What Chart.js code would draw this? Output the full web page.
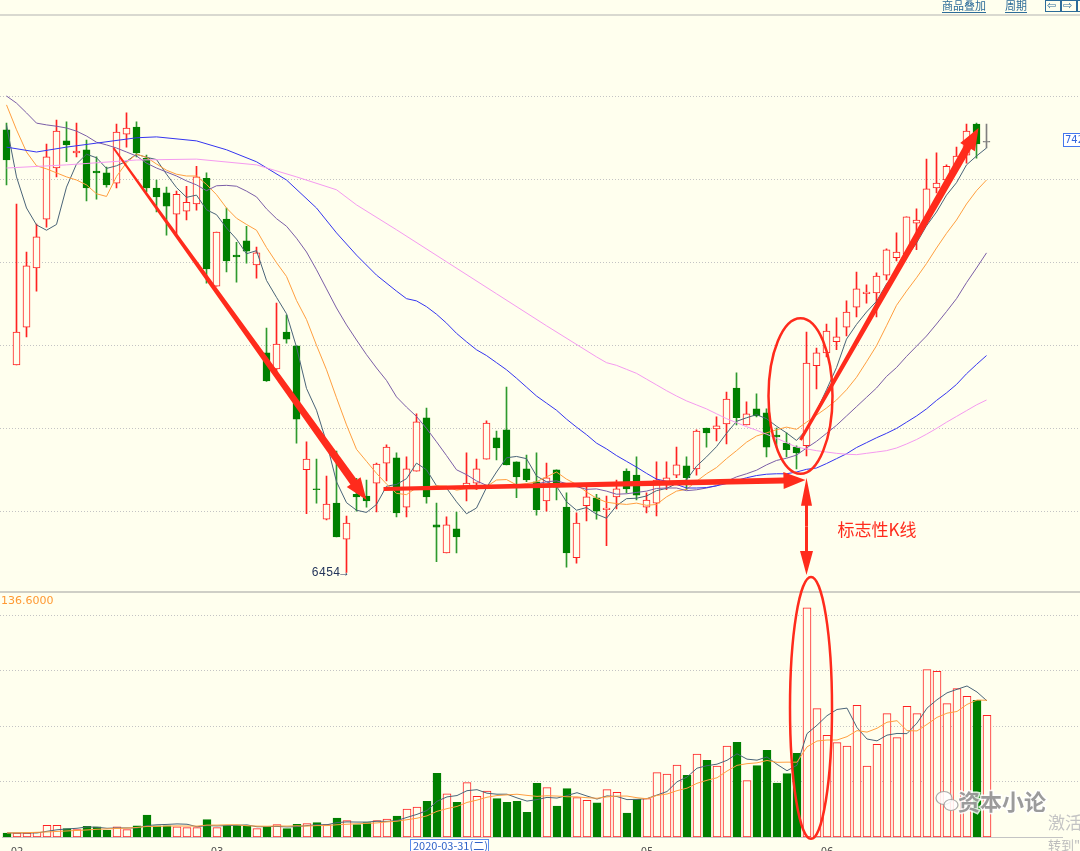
<!DOCTYPE html>
<html>
<head>
<meta charset="utf-8">
<script src="https://cdn.jsdelivr.net/npm/chart.js@4.4.1/dist/chart.umd.min.js"></script>
<style>
html, body { margin: 0; padding: 0; background: #ffffee; }
#wrap { position: relative; width: 1080px; height: 851px; overflow: hidden; }
canvas { position: absolute; left: 0; top: 0; }
#vol-chart { pointer-events: none; }
</style>
</head>
<body>
<div id="wrap">
  <canvas id="price-chart" width="1080" height="851"></canvas>
  <canvas id="vol-chart" width="1080" height="851"></canvas>
</div>
<script>
// daily bars, 2020-01-23 .. 2020-06-23
const opens = [
  7450,6921,7006,7139,7249,7364,7425,7398,7405,7357,
  7353,7330,7440,7456,7386,7319,7308,7260,7267,7283,
  7341,7098,7249,7168,7200,7146,6948,6912,6995,6964,
  6685,6642,6574,6610,6529,6630,6626,6655,6700,6712,
  6601,6682,6802,6561,6498,6552,6646,6655,6709,6757,
  6775,6703,6687,6658,6615,6685,6601,6487,6604,6622,
  6595,6624,6682,6673,6601,6610,6653,6673,6694,6687,
  6779,6777,6788,6869,6786,6822,6813,6763,6745,6736,
  6739,6919,6948,6973,7006,7051,7081,7083,7123,7162,
  7171,7240,7247,7319,7337,7366,7393,7463,7422
];
const highs = [
  7465,7283,7175,7238,7418,7472,7468,7465,7427,7389,
  7366,7463,7488,7468,7393,7337,7321,7312,7323,7368,
  7353,7220,7274,7197,7233,7186,7004,7060,7033,6964,
  6748,6709,6671,6727,6581,6666,6662,6700,6741,6723,
  6714,6811,6824,6610,6579,6590,6723,6709,6795,6772,
  6871,6703,6718,6723,6700,6685,6633,6588,6649,6630,
  6626,6662,6687,6714,6633,6703,6703,6736,6714,6775,
  6779,6804,6860,6903,6838,6856,6822,6779,6768,6739,
  6995,6959,7013,7027,7065,7130,7101,7128,7182,7218,
  7254,7272,7384,7398,7371,7411,7463,7465,7463
];
const lows = [
  7326,6921,6984,7087,7231,7344,7378,7389,7290,7294,
  7321,7319,7411,7389,7310,7265,7213,7215,7247,7269,
  7105,7098,7130,7107,7150,7116,6884,6903,6970,6745,
  6586,6610,6572,6534,6454,6592,6601,6590,6660,6579,
  6579,6682,6610,6478,6498,6498,6615,6640,6709,6707,
  6696,6622,6658,6583,6592,6617,6466,6475,6570,6574,
  6514,6597,6633,6617,6588,6581,6640,6667,6640,6673,
  6736,6750,6743,6786,6786,6804,6714,6736,6714,6687,
  6716,6867,6939,6955,6986,7029,7060,7029,7112,7155,
  7166,7180,7236,7308,7328,7359,7375,7386,7409
];
const closes = [
  7382,6995,7144,7209,7389,7447,7416,7402,7319,7353,
  7326,7445,7454,7398,7319,7299,7278,7305,7287,7344,
  7137,7220,7155,7164,7177,7173,6885,6968,6979,6799,
  6709,6640,6608,6534,6565,6624,6615,6698,6736,6588,
  6687,6793,6624,6556,6561,6534,6655,6687,6790,6734,
  6696,6669,6662,6595,6667,6646,6498,6565,6624,6592,
  6599,6642,6642,6628,6617,6662,6667,6696,6667,6772,
  6768,6784,6844,6802,6811,6806,6736,6759,6730,6723,
  6925,6948,6997,6984,7040,7092,7085,7121,7180,7175,
  7254,7247,7317,7330,7368,7391,7447,7418,7422
];
const volumes = [
  2.4,2.4,2.4,2.8,7.0,7.0,5.0,4.4,6.4,6.0,
  4.0,6.0,4.4,6.6,13.1,6.6,6.6,6.0,5.6,5.6,
  10.4,5.6,6.8,6.8,6.4,5.0,6.0,7.4,5.0,7.6,
  8.0,8.6,7.4,11.3,9.8,7.4,8.6,9.8,10.7,12.5,
  16.7,17.9,21.3,37.9,25.8,20.7,32.4,24.2,27.4,22.9,
  20.7,21.3,14.7,32.0,29.4,18.5,28.8,23.5,21.9,20.3,
  28.2,26.6,14.3,22.6,22.9,38.4,37.5,42.9,36.8,49.4,
  45.7,42.3,54.2,56.4,33.6,42.5,51.6,32.2,37.8,49.9,
  136.6,76.5,60.6,56.2,54.2,78.5,42.3,55.2,73.5,59.2,
  77.9,73.5,99.7,98.7,79.5,88.4,83.8,81.4,72.5
];

// moving average lines
const ma5 = [
  7461,7344,7274,7236,7224,7237,7321,7373,7395,7387,
  7363,7369,7379,7395,7388,7383,7350,7320,7298,7303,
  7270,7259,7229,7204,7171,7178,7111,7073,7036,6961,
  6868,6819,6747,6658,6611,6594,6589,6607,6648,6652,
  6665,6700,6685,6649,6644,6613,6586,6599,6645,6680,
  6712,6715,6710,6671,6658,6648,6613,6594,6600,6585,
  6576,6604,6620,6621,6626,6638,6643,6654,6662,6693,
  6714,6737,6767,6794,6802,6809,6800,6783,6768,6751,
  6775,6817,6865,6915,6979,7012,7040,7064,7103,7130,
  7163,7195,7234,7265,7303,7331,7371,7391,7409
];
const ma10 = [
  7506,7450,7400,7369,7362,7353,7344,7337,7326,7306,
  7300,7345,7376,7395,7388,7373,7359,7350,7346,7346,
  7327,7304,7274,7251,7237,7224,7185,7151,7120,7066,
  7023,6965,6910,6847,6786,6731,6704,6677,6653,6632,
  6629,6645,6646,6649,6648,6639,6643,6642,6647,6662,
  6663,6651,6654,6658,6669,6680,6664,6652,6635,6621,
  6612,6609,6607,6610,6605,6607,6624,6637,6641,6659,
  6676,6690,6710,6728,6747,6761,6768,6775,6781,6776,
  6792,6808,6824,6842,6865,6893,6928,6964,7009,7055,
  7087,7117,7149,7184,7217,7247,7283,7313,7337
];
const ma20 = [
  7526,7510,7488,7465,7461,7458,7454,7447,7436,7422,
  7416,7409,7400,7391,7375,7364,7355,7346,7335,7326,
  7313,7324,7325,7323,7312,7299,7272,7250,7233,7206,
  7175,7135,7092,7049,7011,6977,6944,6914,6886,6849,
  6826,6805,6778,6748,6717,6685,6674,6660,6650,6647,
  6646,6648,6650,6653,6658,6660,6654,6647,6641,6642,
  6637,6630,6631,6634,6637,6643,6644,6644,6638,6640,
  6644,6649,6659,6669,6676,6684,6696,6706,6711,6718,
  6734,6749,6767,6785,6806,6827,6848,6869,6895,6915,
  6940,6963,6986,7013,7041,7070,7106,7139,7173
];
// [bar number, value] where the line was read sparsely, then every bar
const ma40Early = [[1,7411],[4,7400],[7,7411],[10,7420],[14,7432],[16,7434],[20,7425],
  [23,7405],[26,7378],[29,7337],[32,7274],[34,7218],[36,7168],[38,7123]];
const ma40Start = 40;
const ma40Late = [
  7087,7070,7065,7052,7035,7015,6992,6973,6955,6942,
  6926,6910,6891,6871,6851,6835,6819,6799,6781,6764,
  6745,6732,6717,6704,6691,6677,6664,6659,6652,6644,
  6644,6645,6649,6654,6661,6667,6672,6675,6676,6676,
  6680,6686,6689,6699,6710,6721,6735,6746,6757,6767,
  6778,6792,6806,6822,6841,6858,6877,6901,6922,6942
];
const ma60Early = [[1,7364],[7,7371],[14,7382],[20,7384],[26,7371],[30,7344],[34,7315],
  [36,7281],[40,7225],[45,7153],[50,7081],[55,7009]];
const ma60Start = 60;
const ma60Late = [
  6939,6926,6920,6911,6902,6889,6876,6863,6851,6840,
  6831,6822,6811,6800,6791,6782,6774,6765,6756,6746,
  6736,6732,6728,6725,6722,6720,6719,6722,6725,6728,
  6734,6743,6753,6765,6778,6792,6805,6818,6831,6842
];
const volMa5 = [
  2.4,2.4,2.4,2.4,3.4,4.3,4.8,5.2,6.0,5.8,
  5.2,5.4,5.4,5.4,6.8,7.3,7.5,7.8,7.6,6.1,
  6.8,6.6,6.8,7.0,7.2,6.1,6.2,6.3,6.0,6.2,
  6.8,7.3,7.3,8.6,9.0,8.9,8.9,9.4,9.3,9.8,
  11.7,13.5,15.8,21.3,23.9,24.7,27.6,28.2,26.1,25.5,
  25.5,23.3,21.4,22.3,23.6,23.2,24.7,26.4,24.4,22.6,
  24.5,24.1,22.3,22.4,22.9,25.0,27.1,32.9,35.7,41.0,
  42.5,43.4,45.7,49.6,46.4,45.8,47.7,43.3,39.5,42.8,
  61.6,66.6,72.3,76.0,76.8,65.2,58.4,57.3,60.7,61.7,
  61.6,67.9,76.8,81.8,85.9,88.0,90.0,86.4,81.1
];
const volMa10 = [
  2.4,2.5,2.6,2.8,3.0,3.3,3.6,3.9,4.2,4.6,
  4.8,5.1,5.3,5.7,6.3,6.3,6.5,6.6,6.5,6.5,
  7.1,7.1,7.3,7.3,6.7,6.5,6.4,6.6,6.5,6.7,
  6.5,6.8,6.8,7.3,7.6,7.9,8.1,8.4,9.0,9.4,
  10.3,11.2,12.6,15.3,16.9,18.2,20.6,22.0,23.7,24.7,
  25.1,25.5,24.8,24.2,24.6,24.4,24.0,23.9,23.4,23.1,
  23.9,24.4,24.4,23.4,22.8,24.8,25.6,27.6,29.1,32.0,
  33.8,35.3,39.3,42.7,43.7,44.2,45.6,44.5,44.6,44.6,
  53.7,57.2,57.8,57.8,59.8,63.4,62.5,64.8,68.4,69.3,
  63.4,63.2,67.1,71.3,73.8,74.8,79.0,81.6,81.5
];

// x axis: month starts (0-based bar index) and the cursor date box
const monthTicks = { 1: '02', 21: '03', 64: '05', 82: '06' };
const cursorIndex = 42;
const cursorLabel = '2020-03-31(二)';
const gridPrices = [6592, 6779, 6966, 7153, 7340, 7527];
const volGrid = [33.1, 66.2, 99.3, 132.4];

const BG = '#ffffee';
const RED = '#ff2222';
const GREEN = '#008000';
const DOJI = '#808080';
const MARK = '#ff2b1c';
const SLOTS = 106;
const N = closes.length;
const labels = Array.from({ length: SLOTS }, (_, i) => String(i + 1));

function series(early, late, start) {
    const out = new Array(N).fill(null);
    early.forEach(([bar, v]) => { out[bar - 1] = v; });
    late.forEach((v, k) => { out[start - 1 + k] = v; });
    return out;
}

const dir = closes.map((c, i) => c > opens[i] ? 1 : (c < opens[i] ? -1 : 0));
const bodyFill = dir.map(d => d > 0 ? BG : (d < 0 ? GREEN : DOJI));
const bodyLine = dir.map(d => d > 0 ? RED : (d < 0 ? GREEN : DOJI));
const wickColor = dir.map(d => d > 0 ? RED : (d < 0 ? '#2e9a2e' : DOJI));
const volFill = dir.map(d => d < 0 ? GREEN : BG);
const volLine = dir.map(d => d < 0 ? GREEN : RED);

function lineDs(data, color) {
    return { type: 'line', data: data, borderColor: color, borderWidth: 1, pointRadius: 0,
        spanGaps: true, tension: 0, fill: false, order: 1 };
}

// annotations in (bar index, value) coordinates
const trendArrows = [
    { from: [10.7, 7409], to: [36.0, 6617], w0: 2, w1: 8 },
    { from: [37.7, 6642], to: [79.9, 6662], w0: 4, w1: 6 },
    { from: [79.4, 6752], to: [97.2, 7454], w0: 3, w1: 8 }
];
const signalIndex = 80;
const signalRing = { at: [79.4, 6851], rx: 3.2, ry: 175 };
const signalDrop = { top: 6667, bottom: 6448 };
const signalText = { at: [83.1, 6550], text: '标志性K线' };
const volRing = { at: [80.4, 76.9], rx: 2.1, ry: 78 };

function taperArrow(ctx, x1, y1, x2, y2, w0, w1, hl, hw) {
    const a = Math.atan2(y2 - y1, x2 - x1), c = Math.cos(a), s = Math.sin(a);
    const bx = x2 - hl * c, by = y2 - hl * s;
    ctx.beginPath();
    ctx.moveTo(x1 + s * w0 / 2, y1 - c * w0 / 2);
    ctx.lineTo(bx + s * w1 / 2, by - c * w1 / 2);
    ctx.lineTo(bx + s * hw / 2, by - c * hw / 2);
    ctx.lineTo(x2, y2);
    ctx.lineTo(bx - s * hw / 2, by + c * hw / 2);
    ctx.lineTo(bx - s * w1 / 2, by + c * w1 / 2);
    ctx.lineTo(x1 - s * w0 / 2, y1 + c * w0 / 2);
    ctx.closePath();
    ctx.fill();
}

function dotted(ctx, y, x0, x1) {
    ctx.beginPath();
    ctx.moveTo(x0, Math.round(y) + 0.5);
    ctx.lineTo(x1, Math.round(y) + 0.5);
    ctx.stroke();
}

const priceFrame = {
    id: 'priceFrame',
    beforeDraw(chart) {
        const { ctx, width, height, scales: { y } } = chart;
        ctx.save();
        ctx.fillStyle = BG;
        ctx.fillRect(0, 0, width, height);
        ctx.fillStyle = '#d9d9d0';
        ctx.fillRect(0, 14, width, 2);
        ctx.fillStyle = '#cfcfc6';
        ctx.fillRect(0, 591, width, 2);
        ctx.strokeStyle = '#c4c4c4';
        ctx.lineWidth = 1;
        ctx.setLineDash([1, 2]);
        gridPrices.forEach(p => dotted(ctx, y.getPixelForValue(p), 0, width));
        ctx.restore();
    },
    afterDatasetsDraw(chart) {
        const { ctx, scales: { x, y } } = chart;
        const P = (i, v) => [x.getPixelForValue(i), y.getPixelForValue(v)];
        ctx.save();
        ctx.fillStyle = MARK;
        ctx.strokeStyle = MARK;
        trendArrows.forEach(a => {
            const [x1, y1] = P(a.from[0], a.from[1]);
            const [x2, y2] = P(a.to[0], a.to[1]);
            taperArrow(ctx, x1, y1, x2, y2, a.w0, a.w1, 22, 17);
        });
        // ring round the signal candle
        const [cx, cy] = P(signalRing.at[0], signalRing.at[1]);
        const rx = x.getPixelForValue(signalRing.at[0] + signalRing.rx) - cx;
        const ry = y.getPixelForValue(signalRing.at[1] - signalRing.ry) - cy;
        ctx.lineWidth = 2.5;
        ctx.beginPath();
        ctx.ellipse(cx, cy, rx, ry, 0, 0, Math.PI * 2);
        ctx.stroke();
        // double arrow down to the volume spike
        const sx = x.getPixelForValue(signalIndex);
        const yt = y.getPixelForValue(signalDrop.top);
        const yb = y.getPixelForValue(signalDrop.bottom);
        const ym = (yt + yb) / 2;
        taperArrow(ctx, sx, ym, sx, yt, 3, 3, 28, 11);
        taperArrow(ctx, sx, ym, sx, yb, 3, 3, 24, 13);
        const [tx, ty] = P(signalText.at[0], signalText.at[1]);
        ctx.font = '17px "Noto Sans CJK SC"';
        ctx.textBaseline = 'middle';
        ctx.textAlign = 'left';
        ctx.fillText(signalText.text, tx, ty);
        ctx.restore();
    },
    afterDraw(chart) {
        const { ctx, scales: { x, y } } = chart;
        ctx.save();
        // lowest low marker
        const lo = Math.min(...lows);
        const li = lows.indexOf(lo);
        ctx.fillStyle = '#22335a';
        ctx.font = '12px "Liberation Mono"';
        ctx.textAlign = 'right';
        ctx.textBaseline = 'middle';
        ctx.fillText(String(lo) + '\u2192', x.getPixelForValue(li) + 1, y.getPixelForValue(lo));
        // last price tag
        const last = closes[N - 1];
        const ly = Math.round(y.getPixelForValue(last)) - 2;
        ctx.fillStyle = '#ffffff';
        ctx.fillRect(1063, ly - 7, 20, 14);
        ctx.strokeStyle = '#4477ee';
        ctx.lineWidth = 1;
        ctx.strokeRect(1063.5, ly - 6.5, 20, 13);
        ctx.fillStyle = '#3366dd';
        ctx.font = '10px "DejaVu Sans"';
        ctx.textAlign = 'left';
        ctx.fillText(last.toFixed(2), 1065, ly + 0.5);
        // toolbar
        ctx.fillStyle = '#2d6c99';
        ctx.strokeStyle = '#2d6c99';
        ctx.font = '11px "Noto Sans CJK SC"';
        ctx.fillText('商品叠加', 942, 6);
        ctx.fillText('周期', 1005, 6);
        ctx.fillRect(942, 12, 44, 1);
        ctx.fillRect(1005, 12, 22, 1);
        [1045, 1061, 1077].forEach(bx => ctx.strokeRect(bx + 0.5, 0.5, 15, 11));
        ctx.font = '11px "DejaVu Sans"';
        ctx.fillText('\u21e6', 1047, 6);
        ctx.fillText('\u21e8', 1063, 6);
        ctx.restore();
    }
};

const volFrame = {
    id: 'volFrame',
    beforeDatasetsDraw(chart) {
        const { ctx, width, scales: { y } } = chart;
        ctx.save();
        ctx.strokeStyle = '#c4c4c4';
        ctx.lineWidth = 1;
        ctx.setLineDash([1, 2]);
        volGrid.forEach(v => dotted(ctx, y.getPixelForValue(v), 0, width));
        ctx.restore();
    },
    afterDraw(chart) {
        const { ctx, scales: { x, y } } = chart;
        ctx.save();
        ctx.fillStyle = '#ff9933';
        ctx.font = '11px "DejaVu Sans"';
        ctx.textBaseline = 'middle';
        ctx.fillText(Math.max(...volumes).toFixed(4), 1, 601);
        // ring round the volume spike
        const cx = x.getPixelForValue(volRing.at[0]);
        const cy = y.getPixelForValue(volRing.at[1]);
        const rx = x.getPixelForValue(volRing.at[0] + volRing.rx) - cx;
        const ry = y.getPixelForValue(volRing.at[1] - volRing.ry) - cy;
        ctx.strokeStyle = MARK;
        ctx.lineWidth = 2.5;
        ctx.beginPath();
        ctx.ellipse(cx, cy, rx, ry, 0, 0, Math.PI * 2);
        ctx.stroke();
        // cursor date box
        const bx = Math.round(x.getPixelForValue(cursorIndex)) - 17;
        ctx.fillStyle = '#ffffff';
        ctx.fillRect(bx, 839, 78, 13);
        ctx.strokeStyle = '#5b8def';
        ctx.lineWidth = 1;
        ctx.strokeRect(bx + 0.5, 839.5, 78, 13);
        ctx.fillStyle = '#2f62c8';
        ctx.font = '11px "Noto Sans CJK SC"';
        ctx.fillText(cursorLabel, bx + 3, 846);
        // watermark
        ctx.globalAlpha = 0.85;
        ctx.fillStyle = '#ffffff';
        ctx.strokeStyle = '#9a9a9a';
        ctx.lineWidth = 1.2;
        ctx.beginPath(); ctx.ellipse(944, 798, 8, 6.5, 0, 0, Math.PI * 2); ctx.fill(); ctx.stroke();
        ctx.beginPath(); ctx.ellipse(951, 805, 7, 5.5, 0, 0, Math.PI * 2); ctx.fill(); ctx.stroke();
        ctx.font = 'bold 22px "Noto Sans CJK SC"';
        ctx.lineWidth = 3;
        ctx.strokeStyle = '#ffffff';
        ctx.strokeText('资本小论', 958, 802);
        ctx.fillStyle = '#8a8a8a';
        ctx.fillText('资本小论', 958, 802);
        ctx.globalAlpha = 1;
        ctx.fillStyle = '#c4c4c4';
        ctx.font = '17px "Noto Sans CJK SC"';
        ctx.fillText('激活 Windows', 1048, 823);
        ctx.fillStyle = '#bdbdbd';
        ctx.font = '13px "Noto Sans CJK SC"';
        ctx.fillText('转到"设置"以激活 Windows。', 1048, 845);
        ctx.restore();
    }
};

new Chart(document.getElementById('price-chart').getContext('2d'), {
    type: 'bar',
    data: {
        labels: labels,
        datasets: [
            {
                data: lows.map((l, i) => [l, highs[i]]),
                backgroundColor: wickColor,
                borderWidth: 0,
                barThickness: 1,
                grouped: false,
                order: 3
            },
            {
                data: opens.map((o, i) => [o, closes[i]]),
                backgroundColor: bodyFill,
                borderColor: bodyLine,
                borderWidth: 1,
                borderSkipped: false,
                barThickness: 7,
                minBarLength: 1,
                grouped: false,
                order: 2
            },
            lineDs(series(ma60Early, ma60Late, ma60Start), '#f59af0'),
            lineDs(series(ma40Early, ma40Late, ma40Start), '#3535f0'),
            lineDs(ma20, '#7b5ea7'),
            lineDs(ma10, '#ff9f40'),
            lineDs(ma5, '#4a6478')
        ]
    },
    options: {
        responsive: false,
        animation: false,
        devicePixelRatio: 1,
        events: [],
        layout: { padding: { left: 1.5, right: 18.5, top: 15, bottom: 261 } },
        plugins: { legend: { display: false }, tooltip: { enabled: false } },
        scales: {
            x: { display: false, offset: true },
            y: { display: false, min: 6414.5, max: 7708.25 }
        }
    },
    plugins: [priceFrame]
});

new Chart(document.getElementById('vol-chart').getContext('2d'), {
    type: 'bar',
    data: {
        labels: labels,
        datasets: [
            {
                data: volumes,
                backgroundColor: volFill,
                borderColor: volLine,
                borderWidth: 1,
                borderSkipped: false,
                barThickness: 8,
                grouped: false,
                order: 2
            },
            lineDs(volMa10, '#ff9f40'),
            lineDs(volMa5, '#4a6478')
        ]
    },
    options: {
        responsive: false,
        animation: false,
        devicePixelRatio: 1,
        events: [],
        layout: { padding: { left: 2, right: 18, top: 592, bottom: 0 } },
        plugins: { legend: { display: false }, tooltip: { enabled: false } },
        scales: {
            x: {
                offset: true,
                grid: { display: false },
                border: { display: true, color: '#c4c4c4' },
                afterFit: s => { s.height = 14; },
                ticks: {
                    autoSkip: false,
                    maxRotation: 0,
                    padding: 1,
                    color: '#555555',
                    font: { family: 'DejaVu Sans', size: 10 },
                    callback: (v, i) => monthTicks[i] || ''
                }
            },
            y: { display: false, min: 0, max: 146 }
        }
    },
    plugins: [volFrame]
});
</script>
</body>
</html>
